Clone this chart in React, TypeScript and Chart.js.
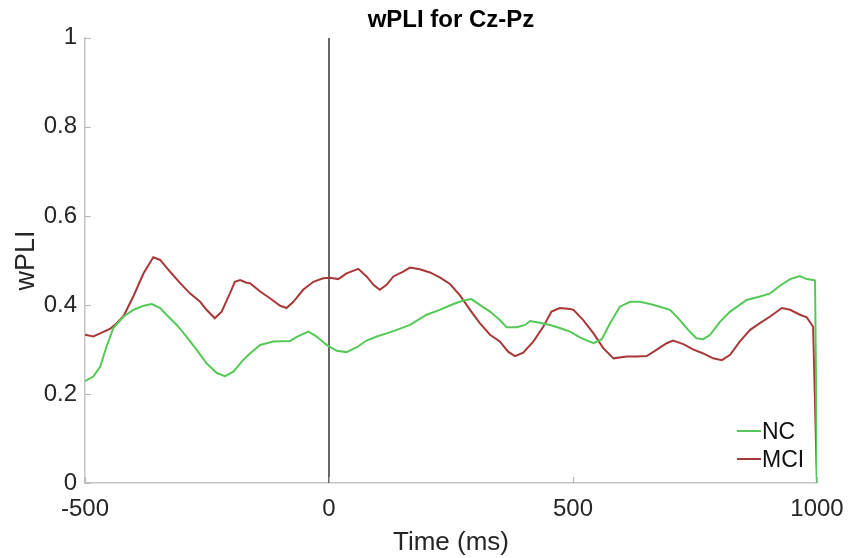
import React, { useEffect, useRef } from "react";
import { Chart, registerables } from "chart.js";

Chart.register(...registerables);

const chartTitle = "wPLI for Cz-Pz";
const xAxisTitle = "Time (ms)";
const yAxisTitle = "wPLI";
const seriesNames = ["NC", "MCI"];
const xTickValues = [-500, 0, 500, 1000];
const yTickValues = [0, 0.2, 0.4, 0.6, 0.8, 1];

const ncTime = [
  -500, -483, -469, -456, -442, -421, -401, -380, -363, -346, -333, -312, -292, -271, -251, -230, -213, -196,
  -176, -162, -141, -114, -80, -63, -42, -25, -5, 16, 36, 57, 77, 98, 118, 139, 166, 200, 227, 255, 275, 292,
  309, 330, 350, 364, 385, 402, 412, 432, 453, 473, 494, 514, 542, 559, 576, 596, 617, 637, 658, 678, 699, 719,
  736, 753, 767, 781, 801, 822, 856, 883, 904, 924, 945, 965, 979, 992, 996, 1000,
];
const ncValues = [
  0.229, 0.239, 0.261, 0.306, 0.348, 0.374, 0.389, 0.398, 0.402, 0.393, 0.378, 0.355, 0.329, 0.299, 0.269, 0.247,
  0.24, 0.25, 0.276, 0.291, 0.31, 0.318, 0.319, 0.33, 0.34, 0.329, 0.31, 0.297, 0.294, 0.305, 0.32, 0.329, 0.336,
  0.344, 0.355, 0.378, 0.389, 0.402, 0.41, 0.413, 0.4, 0.385, 0.366, 0.35, 0.35, 0.355, 0.364, 0.36, 0.355, 0.348,
  0.34, 0.327, 0.314, 0.323, 0.359, 0.396, 0.407, 0.407, 0.402, 0.396, 0.389, 0.366, 0.344, 0.325, 0.323, 0.333,
  0.362, 0.385, 0.411, 0.419, 0.426, 0.443, 0.458, 0.465, 0.458, 0.456, 0.455, 0,
];

const mciTime = [
  -500, -483, -469, -449, -435, -421, -401, -380, -360, -346, -326, -305, -285, -264, -251, -234, -220, -203,
  -193, -182, -169, -162, -141, -121, -100, -87, -73, -53, -32, -12, 2, 19, 36, 60, 77, 91, 104, 118, 132, 152,
  166, 186, 207, 227, 248, 268, 289, 309, 330, 350, 367, 381, 398, 419, 439, 456, 473, 494, 501, 521, 542, 562,
  583, 610, 630, 651, 671, 692, 705, 726, 746, 767, 787, 805, 822, 842, 863, 883, 904, 928, 945, 965, 979, 992,
  1000,
];
const mciValues = [
  0.333, 0.329, 0.336, 0.346, 0.359, 0.375, 0.419, 0.471, 0.507, 0.501, 0.475, 0.449, 0.426, 0.407, 0.389, 0.37,
  0.385, 0.426, 0.452, 0.456, 0.45, 0.449, 0.43, 0.415, 0.398, 0.393, 0.407, 0.434, 0.452, 0.46, 0.461, 0.458,
  0.471, 0.481, 0.464, 0.445, 0.434, 0.445, 0.464, 0.475, 0.484, 0.48, 0.473, 0.462, 0.447, 0.422, 0.389, 0.359,
  0.333, 0.318, 0.295, 0.285, 0.293, 0.318, 0.351, 0.385, 0.393, 0.391, 0.389, 0.366, 0.336, 0.303, 0.28, 0.284,
  0.284, 0.285, 0.299, 0.314, 0.32, 0.312, 0.3, 0.291, 0.28, 0.276, 0.288, 0.318, 0.344, 0.359, 0.374, 0.393,
  0.389, 0.378, 0.372, 0.351, 0,
];

const onsetTime = [0, 0];
const onsetValues = [0, 1];

const NC_COLOR = "#55c955";
const MCI_COLOR = "#a83838";
const FONT = "'Liberation Sans', Arial, Helvetica, sans-serif";

const zip = (xs: number[], ys: number[]) => xs.map((x, i) => ({ x, y: ys[i] }));

const inwardTicks = {
  id: "inwardTicks",
  afterDraw(chart: any) {
    const { ctx, chartArea, scales } = chart;
    ctx.save();
    ctx.strokeStyle = "#b8b8b8";
    ctx.lineWidth = 1.2;
    ctx.beginPath();
    for (const v of yTickValues) {
      const y = Math.round(scales.y.getPixelForValue(v)) + 0.5;
      ctx.moveTo(chartArea.left, y);
      ctx.lineTo(chartArea.left + 6, y);
    }
    for (const v of xTickValues) {
      const x = Math.round(scales.x.getPixelForValue(v)) + 0.5;
      ctx.moveTo(x, chartArea.bottom);
      ctx.lineTo(x, chartArea.bottom - 6);
    }
    ctx.stroke();
    ctx.restore();
  },
};

export default function App() {
  const canvasRef = useRef<HTMLCanvasElement | null>(null);

  useEffect(() => {
    if (!canvasRef.current) return;
    const chart = new Chart(canvasRef.current, {
      type: "line",
      data: {
        datasets: [
          {
            label: seriesNames[0],
            data: zip(ncTime, ncValues),
            borderColor: NC_COLOR,
            borderWidth: 2,
            pointRadius: 0,
            tension: 0,
          },
          {
            label: seriesNames[1],
            data: zip(mciTime, mciValues),
            borderColor: MCI_COLOR,
            borderWidth: 2,
            pointRadius: 0,
            tension: 0,
          },
          {
            label: "onset",
            data: zip(onsetTime, onsetValues),
            borderColor: "#000000",
            borderWidth: 1.2,
            pointRadius: 0,
          },
        ],
      },
      options: {
        animation: false,
        responsive: true,
        maintainAspectRatio: false,
        layout: { padding: { left: 0, right: 32, top: 0, bottom: 0 } },
        plugins: {
          legend: { display: false },
          tooltip: { enabled: false },
          title: {
            display: true,
            text: chartTitle,
            fullSize: false,
            color: "#000",
            font: { family: FONT, size: 24, weight: "bold" },
            padding: { top: 6, bottom: 3 },
          },
        },
        scales: {
          x: {
            type: "linear",
            min: -500,
            max: 1000,
            afterFit: (s: any) => {
              s.height = 75;
              s.paddingLeft = 0;
              s.paddingRight = 0;
            },
            afterBuildTicks: (s: any) => {
              s.ticks = xTickValues.map((value) => ({ value }));
            },
            grid: { display: false, drawTicks: false },
            border: { display: true, color: "#c4c4c4", width: 1.5 },
            ticks: {
              color: "#262626",
              font: { family: FONT, size: 24 },
              padding: 12,
              maxRotation: 0,
              autoSkip: false,
              callback: (v: any) => String(v),
            },
            title: {
              display: true,
              text: xAxisTitle,
              color: "#262626",
              font: { family: FONT, size: 26 },
              padding: { top: 0, bottom: 0 },
            },
          },
          y: {
            min: 0,
            max: 1,
            afterFit: (s: any) => {
              s.width = 85;
              s.paddingTop = 0;
              s.paddingBottom = 0;
            },
            afterBuildTicks: (s: any) => {
              s.ticks = yTickValues.map((value) => ({ value }));
            },
            grid: { display: false, drawTicks: false },
            border: { display: true, color: "#c4c4c4", width: 1.5 },
            ticks: {
              color: "#262626",
              font: { family: FONT, size: 24 },
              padding: 8,
              autoSkip: false,
              callback: (v: any) => String(Number(Number(v).toFixed(1))),
            },
            title: {
              display: true,
              text: yAxisTitle,
              color: "#262626",
              font: { family: FONT, size: 27 },
              padding: { top: 10, bottom: 0 },
            },
          },
        },
      },
      plugins: [inwardTicks],
    } as any);
    return () => chart.destroy();
  }, []);

  const legendRow = (name: string, color: string, top: number) => (
    <div
      key={name}
      style={{
        position: "absolute",
        left: 737,
        top,
        height: 28,
        display: "flex",
        alignItems: "center",
        fontFamily: FONT,
        fontSize: 23,
        lineHeight: "28px",
        color: "#111",
      }}
    >
      <span style={{ display: "inline-block", width: 24, height: 2, background: color, marginRight: 1 }} />
      <span>{name}</span>
    </div>
  );

  return (
    <div
      style={{
        position: "fixed",
        left: 0,
        top: 0,
        width: 849,
        height: 558,
        background: "#ffffff",
      }}
    >
      <canvas ref={canvasRef} />
      {legendRow(seriesNames[0], NC_COLOR, 417)}
      {legendRow(seriesNames[1], MCI_COLOR, 445)}
    </div>
  );
}
